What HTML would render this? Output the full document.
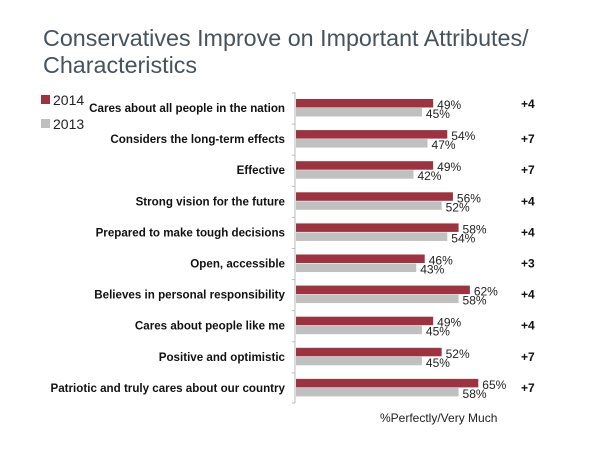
<!DOCTYPE html>
<html><head><meta charset="utf-8"><style>
html,body{margin:0;padding:0;background:#fff;}
svg{display:block;}
</style></head><body>
<svg width="600" height="450" xmlns="http://www.w3.org/2000/svg">
<text x="43" y="46" font-family="Liberation Sans, sans-serif" font-size="23.3" fill="#46525e">Conservatives Improve on Important Attributes/</text>
<text x="43" y="73" font-family="Liberation Sans, sans-serif" font-size="23.3" fill="#46525e">Characteristics</text>
<rect x="41" y="95" width="9" height="9" fill="#9b3340"/>
<text x="53" y="105" font-family="Liberation Sans, sans-serif" font-size="14" fill="#222">2014</text>
<rect x="41" y="119" width="9" height="9" fill="#bfbfbf"/>
<text x="53" y="129" font-family="Liberation Sans, sans-serif" font-size="14" fill="#222">2013</text>
<line x1="295" y1="92" x2="295" y2="403" stroke="#bbb" stroke-width="1"/>
<g id="g"></g>
<text x="380" y="422" font-family="Liberation Sans, sans-serif" font-size="12" fill="#222">%Perfectly/Very Much</text>
</svg>
<script>
var d=[["Cares about all people in the nation",49,45,"+4"],["Considers the long-term effects",54,47,"+7"],["Effective",49,42,"+7"],["Strong vision for the future",56,52,"+4"],["Prepared to make tough decisions",58,54,"+4"],["Open, accessible",46,43,"+3"],["Believes in personal responsibility",62,58,"+4"],["Cares about people like me",49,45,"+4"],["Positive and optimistic",52,45,"+7"],["Patriotic and truly cares about our country",65,58,"+7"]];
var s="",k=2.82;
for(var i=0;i<10;i++){var t=99+i*31.1,r=d[i];
s+='<line x1="292" y1="'+(t-6)+'" x2="295" y2="'+(t-6)+'" stroke="#bbb"/>';
s+='<rect x="296" y="'+t+'" width="'+(r[1]*k-1)+'" height="8.5" fill="#9b3340"/>';
s+='<rect x="296" y="'+(t+9)+'" width="'+(r[2]*k-1)+'" height="8.5" fill="#c0c0c0"/>';
s+='<text x="285" y="'+(t+13)+'" text-anchor="end" font-family="Liberation Sans, sans-serif" font-weight="bold" font-size="11.6" fill="#111">'+r[0]+'</text>';
s+='<text x="'+(297+r[1]*k+2)+'" y="'+(t+10)+'" font-family="Liberation Sans, sans-serif" font-size="12" fill="#222">'+r[1]+'%</text>';
s+='<text x="'+(297+r[2]*k+2)+'" y="'+(t+19)+'" font-family="Liberation Sans, sans-serif" font-size="12" fill="#222">'+r[2]+'%</text>';
s+='<text x="521" y="'+(t+(i==0?9:13))+'" font-family="Liberation Sans, sans-serif" font-weight="bold" font-size="12" fill="#111">'+r[3]+'</text>';}
s+='<line x1="292" y1="403" x2="295" y2="403" stroke="#bbb"/>';
document.getElementById("g").innerHTML=s;
</script>
</body></html>
